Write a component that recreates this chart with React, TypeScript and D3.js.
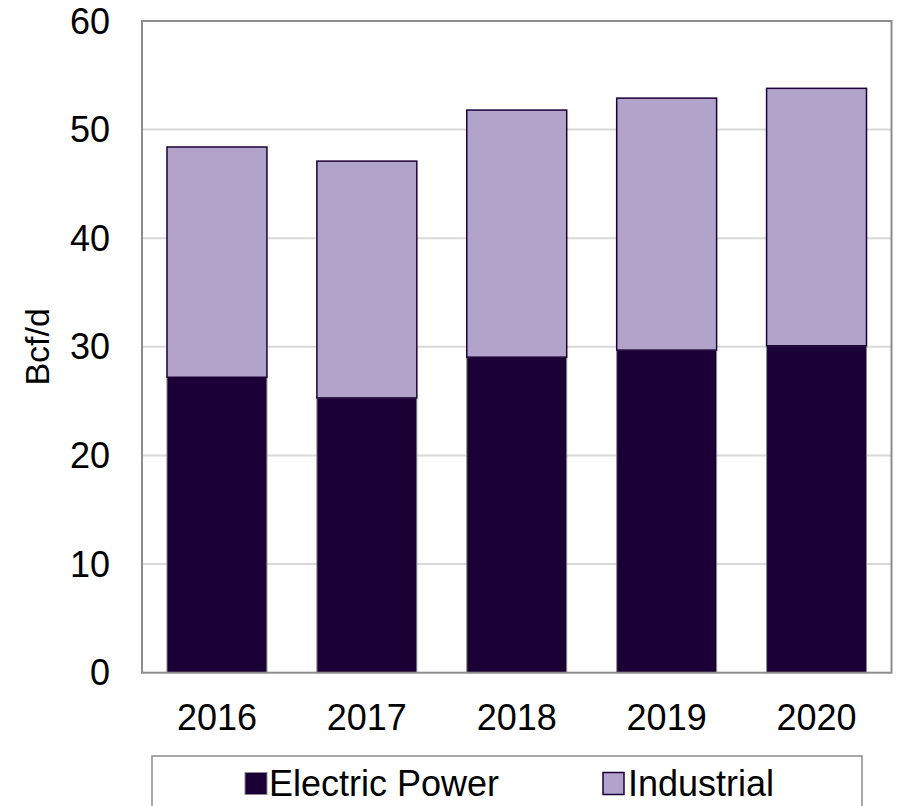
import React from "react";
import * as d3 from "d3";

const years = ["2016", "2017", "2018", "2019", "2020"];
const electricPower = [27.2, 25.3, 29.05, 29.7, 30.1];
const industrialTotal = [48.4, 47.1, 51.8, 52.9, 53.8];
const yTicks = [0, 10, 20, 30, 40, 50, 60];
const seriesNames = ["Electric Power", "Industrial"];

const W = 897;
const H = 806;
const left = 142;
const right = 891.5;
const top = 21;
const bottom = 672.7;
const FONT = "'Liberation Sans', Arial, sans-serif";
const C_ELEC = "#1b0036";
const C_IND = "#b1a3c9";

export default function App() {
  const x = d3.scaleBand<string>().domain(years).range([left, right]).paddingInner(1 / 3).paddingOuter(1 / 6);
  const y = d3.scaleLinear().domain([0, 60]).range([bottom, top]);
  const bw = x.bandwidth();
  const industrial = industrialTotal.map((t, i) => t - electricPower[i]);
  const stack = d3.stack<any>().keys(["e", "ind"])(years.map((yr, i) => ({ yr, e: electricPower[i], ind: industrial[i] })));

  return (
    <svg width={W} height={H} style={{ position: "absolute", left: 0, top: 0, background: "#fff" }} fontFamily={FONT}>
      {yTicks.filter((t) => t > 0 && t < 60).map((t) => (
        <line key={t} x1={left} x2={right} y1={y(t)} y2={y(t)} stroke="#d9d9d9" strokeWidth={2} />
      ))}
      {stack[0].map((d, i) => (
        <rect key={"e" + i} x={x(years[i])!} y={y(d[1])} width={bw} height={y(d[0]) - y(d[1])} fill={C_ELEC} stroke="#8a8a8a" strokeWidth={1} />
      ))}
      {stack[1].map((d, i) => (
        <rect key={"i" + i} x={x(years[i])!} y={y(d[1])} width={bw} height={y(d[0]) - y(d[1])} fill={C_IND} stroke={C_ELEC} strokeWidth={1.5} />
      ))}
      <rect x={left} y={top} width={right - left} height={bottom - top} fill="none" stroke="#8c8c8c" strokeWidth={2} />
      {yTicks.map((t) => (
        <text key={t} x={110} y={y(t)} dy="0.35em" textAnchor="end" fontSize={36} fill="#000">{t}</text>
      ))}
      {years.map((yr) => (
        <text key={yr} x={x(yr)! + bw / 2} y={717} dy="0.35em" textAnchor="middle" fontSize={36} fill="#000">{yr}</text>
      ))}
      <text transform={`translate(37.5,${(top + bottom) / 2}) rotate(-90)`} dy="0.35em" textAnchor="middle" fontSize={34} fill="#000">Bcf/d</text>
      <rect x={152} y={756} width={710} height={80} fill="#fff" stroke="#8c8c8c" strokeWidth={1.5} />
      <rect x={245} y={772.5} width={22} height={22} fill={C_ELEC} stroke="#8a8a8a" strokeWidth={1} />
      <text x={269} y={796} fontSize={36} fill="#000">{seriesNames[0]}</text>
      <rect x={603} y={772.5} width={21} height={22} fill={C_IND} stroke={C_ELEC} strokeWidth={1.5} />
      <text x={628} y={796} fontSize={36} fill="#000">{seriesNames[1]}</text>
    </svg>
  );
}
